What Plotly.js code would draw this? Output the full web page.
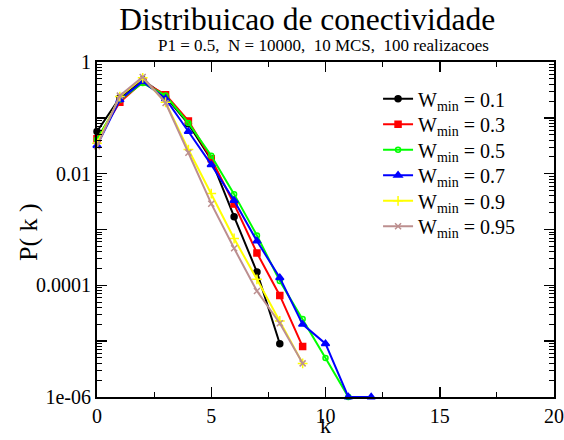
<!DOCTYPE html>
<html>
<head>
<meta charset="utf-8">
<script src="https://cdn.plot.ly/plotly-3.0.1.min.js"></script>
<style>
  html, body { margin: 0; padding: 0; background: #fff; }
  #chart { width: 564px; height: 440px; }
</style>
</head>
<body>
<div id="chart"></div>
<script>
// Degree distribution P(k) for several W_min values
const k = [0, 1, 2, 3, 4, 5, 6, 7, 8, 9, 10, 11, 12];

const wmin01  = [0.057, 0.23, 0.48, 0.24, 0.078, 0.0178, 0.0017, 1.73e-4, 9e-6];
const wmin03  = [0.042, 0.19, 0.44, 0.26, 0.088, 0.0185, 0.00285, 3.8e-4, 6.6e-5, 8e-6];
const wmin05  = [0.041, 0.21, 0.42, 0.25, 0.081, 0.021, 0.0043, 7.8e-4, 1.2e-4, 2.5e-5, 5e-6, 1e-6];
const wmin07  = [0.032, 0.21, 0.45, 0.22, 0.057, 0.0145, 0.0033, 6.2e-4, 1.37e-4, 2e-5, 9e-6, 1e-6, 1e-6];
const wmin09  = [0.035, 0.24, 0.52, 0.19, 0.027, 0.0044, 6.9e-4, 1.28e-4, 2.3e-5, 4e-6];
const wmin095 = [0.031, 0.25, 0.54, 0.185, 0.0237, 0.0029, 4.6e-4, 7.9e-5, 2.1e-5, 4e-6];

const seriesNames = ['0.1', '0.3', '0.5', '0.7', '0.9', '0.95'];
const seriesData = [wmin01, wmin03, wmin05, wmin07, wmin09, wmin095];

const colors  = ['#000000', '#ff0000', '#00ff00', '#0000ff', '#ffff00', '#bc8f8f'];
const symbols = ['circle', 'square', 'circle-open', 'triangle-up', 'cross-thin-open', 'x-thin-open'];
const sizes   = [6, 6, 5, 7, 7, 6];

const yMajor = [1, 0.1, 0.01, 0.001, 0.0001, 1e-5, 1e-6];
const yMajorText = ['1', '', '0.01', '', '0.0001', '', '1e-06'];
const yMinor = [];
for (let e = -6; e < 0; e++) {
  for (let m = 2; m <= 9; m++) yMinor.push(m * Math.pow(10, e));
}

const serif = "'Liberation Serif', 'Times New Roman', serif";

// one single-entry legend per series, stacked at a fixed row pitch
const legendIds = ['legend', 'legend2', 'legend3', 'legend4', 'legend5', 'legend6'];
const legendTop = 0.89;
const legendStep = 0.0761;

const traces = seriesData.map((vals, i) => ({
  x: k.slice(0, vals.length),
  y: vals,
  type: 'scatter',
  mode: 'lines+markers',
  name: 'W<sub>min</sub> = ' + seriesNames[i],
  legend: legendIds[i],
  line: { color: colors[i], width: 2 },
  marker: { symbol: symbols[i], size: sizes[i], color: colors[i],
            line: { color: colors[i], width: 1.5 } },
  cliponaxis: false
}));

const layout = {
  width: 564,
  height: 440,
  margin: { l: 97, r: 10, t: 62, b: 43 },
  paper_bgcolor: '#ffffff',
  plot_bgcolor: '#ffffff',
  font: { family: serif, color: '#000', size: 19 },
  title: {
    text: 'Distribuicao de conectividade',
    font: { family: serif, size: 31.5, color: '#000' },
    x: 0.46, xref: 'paper', xanchor: 'center',
    y: 0.958, yref: 'container', yanchor: 'middle'
  },
  annotations: [
    {
      text: 'P1 = 0.5,  N = 10000,  10 MCS,  100 realizacoes',
      xref: 'paper', yref: 'paper', x: 0.495, y: 1.05,
      xanchor: 'center', yanchor: 'middle', showarrow: false,
      font: { family: serif, size: 17, color: '#000' }
    },
    {
      // axis titles
      text: 'k',
      xref: 'paper', yref: 'paper', x: 0.5, y: -0.127,
      xanchor: 'center', yanchor: 'bottom', showarrow: false,
      font: { family: serif, size: 22, color: '#000' }
    },
    {
      text: 'P( k )',
      xref: 'paper', yref: 'paper', x: -0.151, y: 0.4925,
      xanchor: 'center', yanchor: 'middle', showarrow: false, textangle: -90,
      font: { family: serif, size: 26, color: '#000' }
    }
  ],
  xaxis: {
    range: [0, 20],
    tick0: 0, dtick: 5,
    ticks: 'inside', ticklen: 10, tickwidth: 1.5, tickcolor: '#000',
    showline: true, linewidth: 2, linecolor: '#000', mirror: 'allticks',
    showgrid: false, zeroline: false,
    tickfont: { family: serif, size: 20, color: '#000' },
    minor: { dtick: 2.5, ticks: 'inside', ticklen: 5, tickwidth: 1, tickcolor: '#000', showgrid: false }
  },
  yaxis: {
    type: 'log',
    range: [-6, 0],
    tickmode: 'array', tickvals: yMajor, ticktext: yMajorText,
    ticks: 'inside', ticklen: 10, tickwidth: 1.5, tickcolor: '#000',
    showline: true, linewidth: 2, linecolor: '#000', mirror: 'allticks',
    showgrid: false, zeroline: false,
    tickfont: { family: serif, size: 20, color: '#000' },
    minor: { tickmode: 'array', tickvals: yMinor, ticks: 'inside', ticklen: 5, tickwidth: 1, tickcolor: '#000', showgrid: false }
  },
  showlegend: true
};

legendIds.forEach((id, i) => {
  layout[id] = {
    x: 0.615, y: legendTop - i * legendStep, xanchor: 'left', yanchor: 'middle',
    bgcolor: 'rgba(0,0,0,0)', borderwidth: 0,
    font: { family: serif, size: 20, color: '#000' },
    itemwidth: 30
  };
});

Plotly.newPlot('chart', traces, layout, { staticPlot: true, displayModeBar: false });
</script>
</body>
</html>
